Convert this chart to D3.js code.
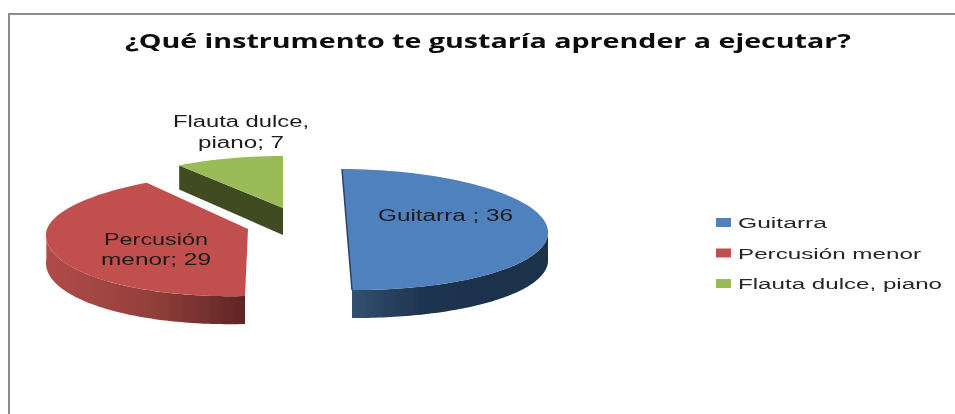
<!DOCTYPE html>
<html><head><meta charset="utf-8">
<script src="https://cdn.jsdelivr.net/npm/d3@7"></script>
<style>html,body{margin:0;background:#fff}svg{display:block}text{font-family:"Liberation Sans",sans-serif;fill:#1c1c1c}</style>
</head><body><svg id="c" width="955" height="414"></svg>
<script>
const titleText = "¿Qué instrumento te gustaría aprender a ejecutar?";
const categories = ["Guitarra", "Percusión menor", "Flauta dulce, piano"];
const values = [36, 29, 7];
const colors = ["#4f81bd", "#c0504d", "#9bbb59"];
const labelLines = [["Guitarra ; 36"], ["Percusión", "menor; 29"], ["Flauta dulce,", "piano; 7"]];

// layout of each exploded, tilted slice (perspective tweaks per slice)
const geom = [
  {cx:347, cy:230, rx:201, ryTop:61, ryBot:60, sx:5,  sy:1,  depth:28, k:1},
  {cx:248, cy:229, rx:202, ryTop:57, ryBot:67, sx:-3, sy:-5, depth:28, k:1.028},
  {cx:283, cy:208, rx:181, ryTop:52, ryBot:52, sx:0,  sy:0,  depth:27, k:1}
];
const labelLayout = [
  {x:445.5, y:[221], w:[135]},
  {x:156, y:[245,265], w:[104,110]},
  {x:241, y:[127,148], w:[136,86]}
];
const svg = d3.select("#c");
const defs = svg.append("defs");
const rimStops = [
  [["0%","#33506f"],["35%","#1f3450"],["100%","#1c3049"]],
  [["0%","#b04b48"],["50%","#95403c"],["100%","#5f2625"]],
  [["0%","#3f4b21"],["100%","#3f4b21"]]
];
rimStops.forEach((st,i)=>{
  const g=defs.append("linearGradient").attr("id","rim"+i);
  st.forEach(s=>g.append("stop").attr("offset",s[0]).attr("stop-color",s[1]));
});
defs.append("filter").attr("id","soft").attr("x","-5%").attr("y","-5%").attr("width","110%").attr("height","110%")
  .append("feGaussianBlur").attr("stdDeviation","0.5");
defs.append("filter").attr("id","softT").attr("x","-5%").attr("y","-30%").attr("width","110%").attr("height","160%")
  .append("feGaussianBlur").attr("stdDeviation","0.35");

// frame
svg.append("path").attr("d",d3.line()([[955,14],[9,14],[9,414]]))
  .attr("fill","none").attr("stroke","#8c8c8c").attr("stroke-width",2);

const arcs = d3.pie().sort(null)(values);
function pt(g,a,start,dz=0){
  const t = start + (a-start)*g.k;
  const c = Math.cos(t), s = Math.sin(t);
  return [g.cx + g.rx*s - g.sx*c, g.cy - (c>0?g.ryTop:g.ryBot)*c + g.sy*s + dz];
}
function sample(g,a0,a1,dz){
  const n = 80; 
  return d3.range(n+1).map(i=>pt(g,a0+(a1-a0)*i/n,a0,dz));
}
const line = d3.line();
const pies = svg.append("g").attr("filter","url(#soft)");
[2,1,0].forEach(i=>{
  const d=arcs[i], g=geom[i], a0=d.startAngle, a1=d.endAngle;
  const top=sample(g,a0,a1,0);
  const apex=[g.cx,g.cy], gp=pies.append("g");
  if(i===2){
    // cut face facing the viewer
    const p=top[0];
    gp.append("path").attr("d",line([p,apex,[apex[0],apex[1]+g.depth],[p[0],p[1]+g.depth-3]])+"Z").attr("fill","url(#rim2)");
  } else {
    // outer rim, only where the edge faces the viewer (lower half)
    const lo=Math.max(a0,Math.PI/2), hi=Math.min(a1,3*Math.PI/2);
    const ptsTop=d3.range(81).map(j=>{const a=lo+(hi-lo)*j/80;return pt(g,a,a0,0)});
    const ptsBot=ptsTop.map(p=>[p[0],p[1]+g.depth]).reverse();
    gp.append("path").attr("d",line(ptsTop.concat(ptsBot))+"Z").attr("fill","url(#rim"+i+")");
  }
  gp.append("path").attr("d",line([apex].concat(top))+"Z").attr("fill",colors[i]);
  if(i===0){
    gp.append("path").attr("d",line([top[0],top[top.length-1]])).attr("stroke","#2b4363").attr("stroke-width",1.5).attr("fill","none");
  }
});

const texts=svg.append("g").attr("filter","url(#softT)");
function fit(sel,w){return sel.attr("textLength",w).attr("lengthAdjust","spacingAndGlyphs");}
fit(texts.append("text").attr("x",488).attr("y",48).attr("text-anchor","middle")
  .attr("font-size",20).attr("font-weight",700).style("font-family","'Open Sans',sans-serif").style("fill","#0a0a0a").text(titleText),726);
labelLines.forEach((ls,i)=>{
  const L=labelLayout[i];
  ls.forEach((t,j)=>fit(texts.append("text").attr("x",L.x).attr("y",L.y[j]).attr("text-anchor","middle")
    .attr("font-size",16).text(t),L.w[j]));
});
// legend
const legY=d3.scalePoint().domain(categories).range([222.5,283.5]);
const legW=[89,183,204];
categories.forEach((c,i)=>{
  const y=legY(c);
  svg.append("rect").attr("x",716).attr("y",y-4.5).attr("width",15).attr("height",9).attr("fill",colors[i]);
  fit(texts.append("text").attr("x",738).attr("y",y+5.5).attr("font-size",15.5).style("fill","#262626").text(c),legW[i]);
});
</script></body></html>
